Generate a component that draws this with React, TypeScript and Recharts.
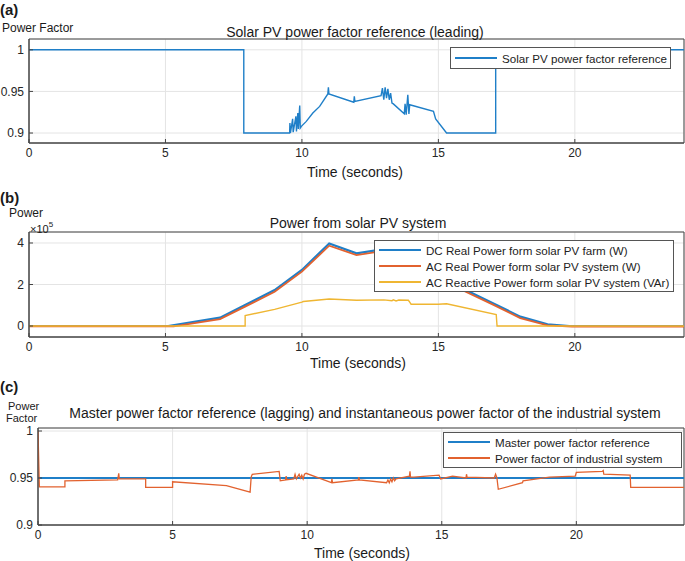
import React from "react"
import { LineChart, Line, XAxis, YAxis, CartesianGrid, ReferenceArea, Legend } from "recharts"

const FONT = '"Liberation Sans", Arial, Helvetica, sans-serif'

const timeTicks = [0, 5, 10, 15, 20]

// (a) solar PV power factor reference
const pvRefTime = [0, 7.87, 7.87, 9.55, 9.56, 9.58, 9.66, 9.68, 9.78, 9.8, 9.85, 9.87, 9.92, 9.94, 9.98, 10.16, 10.4, 10.65, 10.95, 10.97, 10.99, 11.9, 11.92, 11.94, 12.9, 12.95, 13.0, 13.05, 13.1, 13.15, 13.2, 13.25, 13.3, 13.35, 13.75, 13.78, 13.82, 13.88, 13.92, 13.95, 14.82, 14.9, 15.3, 17.1, 17.1, 24]
const pvRefValue = [1, 1, 0.9, 0.9, 0.912, 0.9, 0.917, 0.901, 0.92, 0.902, 0.924, 0.905, 0.933, 0.906, 0.908, 0.914, 0.924, 0.932, 0.947, 0.955, 0.947, 0.937, 0.944, 0.938, 0.945, 0.954, 0.94, 0.955, 0.942, 0.953, 0.94, 0.948, 0.936, 0.935, 0.923, 0.935, 0.922, 0.946, 0.923, 0.934, 0.926, 0.917, 0.9, 0.9, 1, 1]
const pfTicksA = [0.9, 0.95, 1]

// (b) power from solar PV system (W / VAr)
const dcTime = [0, 5.1, 7.0, 7.9, 9.0, 10.0, 11.0, 12.0, 13.0, 14.0, 15.0, 16.0, 17.0, 18.0, 19.0, 19.8, 24]
const dcPower = [0, 0, 40000, 100000, 173000, 270000, 398000, 350000, 370000, 310000, 240000, 173000, 110000, 45000, 8000, 0, 0]
const acTime = [0, 5.3, 7.0, 7.9, 9.0, 10.0, 11.0, 12.0, 13.0, 14.0, 15.0, 16.0, 17.0, 18.0, 19.0, 19.9, 24]
const acPower = [-2000, -2000, 33000, 92000, 165000, 262000, 387000, 342000, 362000, 302000, 232000, 165000, 103000, 38000, 3000, -3000, -3000]
const varTime = [0, 7.92, 7.92, 9.0, 10.0, 10.05, 11.0, 12.0, 13.0, 13.3, 13.35, 13.45, 13.55, 13.9, 13.95, 14.0, 15.0, 15.3, 17.12, 17.15, 24]
const varPower = [0, 0, 50000, 80000, 115000, 118000, 130000, 124000, 126000, 122000, 126000, 121000, 125000, 124000, 115000, 105000, 105000, 107000, 55000, 0, 0]
const powerTicks = [0, 200000, 400000]

// (c) master reference and industrial system power factor
const masterTime = [0, 24]
const masterValue = [0.95, 0.95]
const indTime = [0, 0.05, 1.0, 1.0, 2.96, 3.0, 3.02, 4.0, 4.0, 5.0, 5.0, 7.0, 7.88, 7.92, 7.96, 8.96, 9.0, 9.2, 9.22, 9.24, 9.5, 9.55, 9.6, 9.7, 9.75, 9.8, 9.85, 9.9, 9.96, 10.9, 10.92, 10.94, 11.9, 11.92, 11.94, 12.95, 13.0, 13.05, 13.1, 13.15, 13.2, 13.25, 13.3, 13.8, 13.82, 13.84, 13.96, 14.9, 14.96, 15.4, 15.9, 15.92, 15.94, 16.95, 17.0, 17.05, 17.1, 18.0, 18.02, 19.0, 19.96, 20.0, 20.96, 21.0, 21.02, 22.0, 22.02, 24]
const indValue = [1.0, 0.9405, 0.9405, 0.947, 0.948, 0.955, 0.949, 0.949, 0.94, 0.94, 0.946, 0.942, 0.935, 0.951, 0.954, 0.957, 0.947, 0.948, 0.952, 0.948, 0.949, 0.954, 0.949, 0.954, 0.95, 0.953, 0.949, 0.954, 0.955, 0.945, 0.949, 0.945, 0.948, 0.951, 0.948, 0.945, 0.948, 0.945, 0.949, 0.946, 0.95, 0.947, 0.949, 0.952, 0.957, 0.951, 0.951, 0.953, 0.949, 0.952, 0.95, 0.954, 0.951, 0.95, 0.954, 0.95, 0.938, 0.945, 0.947, 0.951, 0.952, 0.956, 0.957, 0.958, 0.954, 0.953, 0.94, 0.94]
const pfTicksC = [0.9, 0.95, 1]

const seriesNamesA = ["Solar PV power factor reference"]
const seriesNamesB = [
  "DC Real Power form solar PV farm (W)",
  "AC Real Power form solar PV system (W)",
  "AC Reactive Power form solar PV system (VAr)",
]
const seriesNamesC = ["Master power factor reference", "Power factor of industrial system"]

const BLUE = "#1f7fc8"
const ORANGE = "#e2622f"
const YELLOW = "#efb632"
const AXIS = "#444"

const rows = (t: number[], v: number[]) => t.map((x, i) => ({ t: x, v: v[i] }))

const tickStyle = { fontSize: 12, fill: "#262626", fontFamily: FONT }

// boxed MATLAB-style legend, kept in series order
const makeLegend = (rowH: number, order: string[], w: number) => (props: any) => {
  const items = [...(props.payload || [])].sort((a: any, b: any) => order.indexOf(a.value) - order.indexOf(b.value))
  return (
    <div
      style={{
        border: "1px solid #555",
        background: "#fff",
        padding: "1px 4px",
        fontFamily: FONT,
        fontSize: 11.6,
        color: "#222",
        boxSizing: "border-box",
        width: w,
        overflow: "hidden",
      }}
    >
      {items.map((p: any) => (
        <div key={p.value} style={{ display: "flex", alignItems: "center", height: rowH, whiteSpace: "nowrap" }}>
          <svg width={42} height={4} style={{ marginRight: 5, flex: "none" }}>
            <line x1={0} y1={2} x2={42} y2={2} stroke={p.color} strokeWidth={2} />
          </svg>
          <span>{p.value}</span>
        </div>
      ))}
    </div>
  )
}

const Txt = ({ x, y, center, size = 14, bold, children }: any) => (
  <div
    style={{
      position: "absolute",
      left: x,
      top: y,
      transform: center ? "translate(-50%, -50%)" : "translateY(-50%)",
      fontFamily: FONT,
      fontSize: size,
      fontWeight: bold ? 700 : 400,
      color: "#1a1a1a",
      whiteSpace: "nowrap",
      lineHeight: 1,
    }}
  >
    {children}
  </div>
)

export default function App() {
  const aDomain = [0.888, 1.013]
  const bDomain = [-53000, 453000]
  const cDomain = [0.9, 1.0032]

  const common = (yTicks: number[], yDomain: number[], yWidth: number, xHeight: number, fmt?: (v: number) => string) => [
    <CartesianGrid key="g" stroke="#e4e4e4" />,
    <XAxis
      key="x"
      dataKey="t"
      type="number"
      domain={[0, 24]}
      ticks={timeTicks}
      allowDataOverflow
      height={xHeight}
      tickSize={-4}
      tickMargin={9}
      stroke={AXIS}
      tick={tickStyle}
    />,
    <XAxis
      key="xt"
      xAxisId="top"
      orientation="top"
      dataKey="t"
      type="number"
      domain={[0, 24]}
      ticks={timeTicks}
      height={0}
      tickSize={-4}
      tickFormatter={() => ""}
      stroke={AXIS}
    />,
    <YAxis
      key="y"
      type="number"
      domain={yDomain}
      ticks={yTicks}
      allowDataOverflow
      width={yWidth}
      tickSize={-4}
      tickMargin={9}
      stroke={AXIS}
      tick={tickStyle}
      tickFormatter={fmt}
    />,
    <ReferenceArea key="box" x1={0} x2={24} y1={yDomain[0]} y2={yDomain[1]} fill="none" stroke={AXIS} strokeOpacity={1} fillOpacity={0} />,
  ]

  return (
    <div style={{ position: "absolute", left: 0, top: 0, width: 685, height: 561, background: "#fff", overflow: "hidden" }}>
      <div style={{ position: "absolute", left: 0, top: 0 }}>
        <LineChart width={685} height={165} margin={{ top: 39, right: 1, left: 0, bottom: 0 }}>
          {common(pfTicksA, aDomain, 29, 22)}
          <Line data={rows(pvRefTime, pvRefValue)} dataKey="v" name={seriesNamesA[0]} stroke={BLUE} strokeWidth={1.4} dot={false} isAnimationActive={false} />
          <Legend
            layout="horizontal"
            verticalAlign="middle"
            align="center"
            wrapperStyle={{ left: 450, top: 47, width: 221 }}
            content={makeLegend(18, seriesNamesA, 221)}
          />
        </LineChart>
      </div>

      <div style={{ position: "absolute", left: 0, top: 180 }}>
        <LineChart width={685} height={180} margin={{ top: 52, right: 1, left: 0, bottom: 0 }}>
          {common(powerTicks, bDomain, 29, 23, (v: number) => String(v / 100000))}
          <Line data={rows(dcTime, dcPower)} dataKey="v" name={seriesNamesB[0]} stroke={BLUE} strokeWidth={2.2} dot={false} isAnimationActive={false} />
          <Line data={rows(acTime, acPower)} dataKey="v" name={seriesNamesB[1]} stroke={ORANGE} strokeWidth={1.8} dot={false} isAnimationActive={false} />
          <Line data={rows(varTime, varPower)} dataKey="v" name={seriesNamesB[2]} stroke={YELLOW} strokeWidth={1.4} dot={false} isAnimationActive={false} />
          <Legend
            layout="horizontal"
            verticalAlign="middle"
            align="center"
            wrapperStyle={{ left: 374, top: 60, width: 300 }}
            content={makeLegend(16, seriesNamesB, 300)}
          />
        </LineChart>
      </div>

      <div style={{ position: "absolute", left: 0, top: 370 }}>
        <LineChart width={685} height={180} margin={{ top: 58, right: 1, left: 0, bottom: 0 }}>
          {common(pfTicksC, cDomain, 38, 25)}
          <Line data={rows(masterTime, masterValue)} dataKey="v" name={seriesNamesC[0]} stroke={BLUE} strokeWidth={2} dot={false} isAnimationActive={false} />
          <Line data={rows(indTime, indValue)} dataKey="v" name={seriesNamesC[1]} stroke={ORANGE} strokeWidth={1.3} dot={false} isAnimationActive={false} />
          <Legend
            layout="horizontal"
            verticalAlign="middle"
            align="center"
            wrapperStyle={{ left: 443, top: 62, width: 239 }}
            content={makeLegend(16, seriesNamesC, 239)}
          />
        </LineChart>
      </div>

      <Txt x={0} y={9} size={15} bold>(a)</Txt>
      <Txt x={2} y={28} size={12}>Power Factor</Txt>
      <Txt x={355} y={32} center>Solar PV power factor reference (leading)</Txt>
      <Txt x={355} y={172} center>Time (seconds)</Txt>

      <Txt x={0} y={197} size={15} bold>(b)</Txt>
      <Txt x={9} y={213} size={12}>Power</Txt>
      <Txt x={30} y={228} size={11}>
        ×10<sup style={{ fontSize: 8, verticalAlign: "6px" }}>5</sup>
      </Txt>
      <Txt x={358} y={223} center>Power from solar PV system</Txt>
      <Txt x={358} y={363} center>Time (seconds)</Txt>

      <Txt x={0} y={386} size={15} bold>(c)</Txt>
      <Txt x={8} y={406} size={11}>Power</Txt>
      <Txt x={6} y={418} size={11}>Factor</Txt>
      <Txt x={365} y={413} center>Master power factor reference (lagging) and instantaneous power factor of the industrial system</Txt>
      <Txt x={362} y={553} center>Time (seconds)</Txt>
    </div>
  )
}
